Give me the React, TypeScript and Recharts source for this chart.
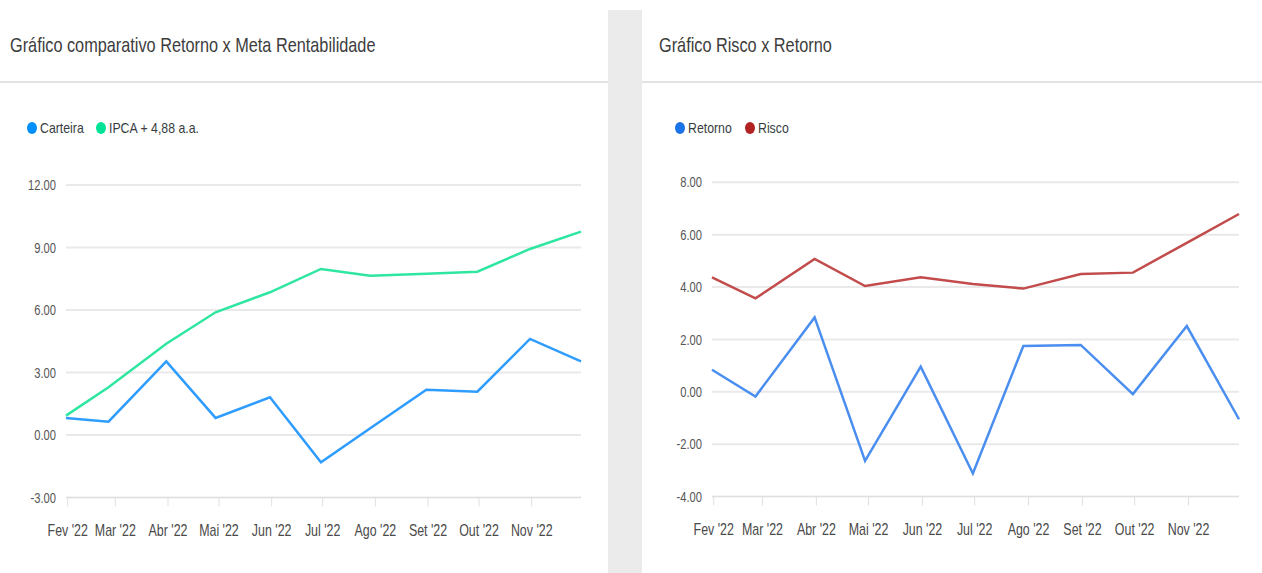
import React from "react";
import {CartesianGrid, Line, LineChart, XAxis, YAxis} from "recharts";

// datas de fechamento (último dia útil do mês)
const periodos = ["2022-01-31", "2022-02-25", "2022-03-31", "2022-04-29", "2022-05-31", "2022-06-30",
    "2022-07-29", "2022-08-31", "2022-09-30", "2022-10-31", "2022-11-30"];

const carteira = [0.82, 0.64, 3.53, 0.82, 1.81, -1.31, 0.32, 2.17, 2.08, 4.61, 3.53];
const ipca = [0.93, 2.29, 4.38, 5.89, 6.85, 7.97, 7.65, 7.74, 7.84, 8.93, 9.76];

const retorno = [0.84, -0.18, 2.84, -2.64, 0.96, -3.12, 1.75, 1.79, -0.09, 2.51, -1.05];
const risco = [4.37, 3.57, 5.07, 4.04, 4.37, 4.12, 3.94, 4.50, 4.55, 5.69, 6.79];

const inicioMeses = ["2022-02-01", "2022-03-01", "2022-04-01", "2022-05-01", "2022-06-01",
    "2022-07-01", "2022-08-01", "2022-09-01", "2022-10-01", "2022-11-01"];
const rotulosMeses = ["Fev '22", "Mar '22", "Abr '22", "Mai '22", "Jun '22",
    "Jul '22", "Ago '22", "Set '22", "Out '22", "Nov '22"];

const ticksEsq = [-3, 0, 3, 6, 9, 12];
const ticksDir = [-4, -2, 0, 2, 4, 6, 8];

const FONT = "'Liberation Sans', Arial, sans-serif";

const ts = (d: string) => Date.parse(d + "T00:00:00Z");

const dadosEsq = periodos.map((d, i) => ({t: ts(d), carteira: carteira[i], ipca: ipca[i]}));
const dadosDir = periodos.map((d, i) => ({t: ts(d), retorno: retorno[i], risco: risco[i]}));
const ticksX = inicioMeses.map(ts);
const dominioX = [ts(periodos[0]), ts(periodos[periodos.length - 1])];

function rotuloX(v: number) {
    const i = ticksX.indexOf(v);
    return i >= 0 ? rotulosMeses[i] : "";
}

function TickX(props: any) {
    const {x, y, payload} = props;
    return (
        <g transform={`translate(${x},${y + 21})`}>
            <text x={0} y={0} dy="0.355em" textAnchor="middle" fill="#4a4a4a"
                  fontSize={17} fontFamily={FONT} transform="scale(0.73,1)">
                {rotuloX(payload.value)}
            </text>
        </g>
    );
}

function TickY(props: any) {
    const {x, y, payload} = props;
    return (
        <g transform={`translate(${x},${y})`}>
            <text x={0} y={0} dy="0.355em" textAnchor="end" fill="#555"
                  fontSize={14.5} fontFamily={FONT} transform="scale(0.77,1)">
                {Number(payload.value).toFixed(2)}
            </text>
        </g>
    );
}

function Titulo({texto, left}: {texto: string, left: number}) {
    return (
        <div style={{position: "absolute", left, top: 31, fontSize: 21, color: "#3d3d3d",
            fontFamily: FONT, whiteSpace: "nowrap", transform: "scaleX(0.775)", transformOrigin: "left center",
            lineHeight: "28px"}}>
            {texto}
        </div>
    );
}

function ItemLegenda({cor, texto, cx}: {cor: string, texto: string, cx: number}) {
    return (
        <>
            <div style={{position: "absolute", left: cx - 5, top: 122, width: 10, height: 12,
                borderRadius: "50%", background: cor}}/>
            <div style={{position: "absolute", left: cx + 8, top: 119, fontSize: 15, color: "#373d3f",
                fontFamily: FONT, whiteSpace: "nowrap", transform: "scaleX(0.82)", transformOrigin: "left center",
                lineHeight: "18px"}}>
                {texto}
            </div>
        </>
    );
}

function App() {
    return (
        <div style={{position: "absolute", left: 0, top: 0, width: 1262, height: 573, background: "#fff",
            overflow: "hidden"}}>
            {/* faixa cinza entre os cards */}
            <div style={{position: "absolute", left: 608, top: 10, width: 34, height: 563, background: "#ebebeb"}}/>
            <div style={{position: "absolute", left: 0, top: 81, width: 608, height: 2, background: "#e2e2e2"}}/>
            <div style={{position: "absolute", left: 642, top: 81, width: 620, height: 2, background: "#e2e2e2"}}/>

            <Titulo texto="Gráfico comparativo Retorno x Meta Rentabilidade" left={10}/>
            <Titulo texto="Gráfico Risco x Retorno" left={659}/>

            <ItemLegenda cor="#008ffb" texto="Carteira" cx={32}/>
            <ItemLegenda cor="#00e396" texto="IPCA + 4,88 a.a." cx={101}/>
            <ItemLegenda cor="#1a73e8" texto="Retorno" cx={680}/>
            <ItemLegenda cor="#b22222" texto="Risco" cx={750}/>

            <div style={{position: "absolute", left: 0, top: 0}}>
                <LineChart width={607} height={573} data={dadosEsq}
                           margin={{top: 185, right: 26, bottom: 35.5, left: 0}}>
                    <CartesianGrid vertical={false} stroke="#e9e9e9" strokeWidth={2}/>
                    <XAxis dataKey="t" type="number" domain={dominioX} ticks={ticksX} interval={0}
                           height={40} tickSize={9} stroke="#e0e0e0" tick={<TickX/>}/>
                    <YAxis domain={[-3, 12]} ticks={ticksEsq} width={66} tickSize={0} tickMargin={10}
                           axisLine={false} tick={<TickY/>}/>
                    <Line type="linear" dataKey="ipca" stroke="#2ee6a0" strokeWidth={2.5} dot={false}
                          isAnimationActive={false}/>
                    <Line type="linear" dataKey="carteira" stroke="#2f9cff" strokeWidth={2.5} dot={false}
                          isAnimationActive={false}/>
                </LineChart>
            </div>

            <div style={{position: "absolute", left: 641, top: 0}}>
                <LineChart width={621} height={573} data={dadosDir}
                           margin={{top: 182.3, right: 23, bottom: 36.5, left: 0}}>
                    <CartesianGrid vertical={false} stroke="#e9e9e9" strokeWidth={2}/>
                    <XAxis dataKey="t" type="number" domain={dominioX} ticks={ticksX} interval={0}
                           height={40} tickSize={9} stroke="#e0e0e0" tick={<TickX/>}/>
                    <YAxis domain={[-4, 8]} ticks={ticksDir} width={71} tickSize={0} tickMargin={10}
                           axisLine={false} tick={<TickY/>}/>
                    <Line type="linear" dataKey="risco" stroke="#c24b4b" strokeWidth={2.5} dot={false}
                          isAnimationActive={false}/>
                    <Line type="linear" dataKey="retorno" stroke="#4a8ef0" strokeWidth={2.5} dot={false}
                          isAnimationActive={false}/>
                </LineChart>
            </div>
        </div>
    );
}

export default App;
